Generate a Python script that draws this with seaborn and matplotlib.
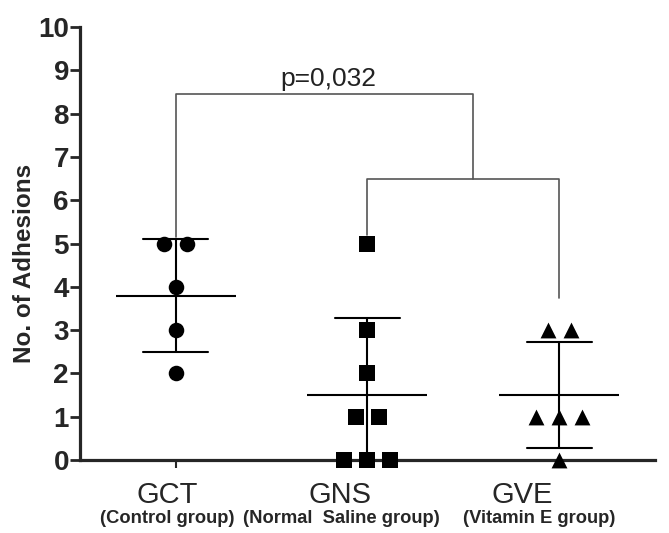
import numpy as np
import pandas as pd
import matplotlib
matplotlib.use('Agg')
import matplotlib.pyplot as plt
import seaborn as sns

# Data
groups = ['GCT', 'GNS', 'GVE']
subtitles = ['(Control group)', '(Normal  Saline group)', '(Vitamin E group)']
gct_values = [5, 5, 4, 3, 2]
gns_values = [5, 3, 2, 1, 1, 0, 0, 0]
gve_values = [3, 3, 1, 1, 1, 0]
p_label = 'p=0,032'

markers = ['o', 's', '^']

sns.set_style('ticks')
plt.rcParams['font.family'] = ['Liberation Sans', 'DejaVu Sans']

df = pd.DataFrame({
    'group': ['GCT'] * len(gct_values) + ['GNS'] * len(gns_values) + ['GVE'] * len(gve_values),
    'value': gct_values + gns_values + gve_values,
})

fig, ax = plt.subplots(figsize=(6.69, 5.33), dpi=100)
fig.subplots_adjust(left=0.1196, right=0.979, bottom=0.137, top=0.949)

# mean line + SD error bars
sns.pointplot(data=df, x='group', y='value', order=groups, errorbar='sd',
              capsize=0.34, linestyle='none', marker='_', markersize=86,
              markeredgewidth=1.5, color='black',
              err_kws={'linewidth': 1.5}, ax=ax, zorder=2)


def spread(vals, step=0.12):
    # side-by-side offsets for repeated values
    vals = np.asarray(vals)
    offs = np.zeros(len(vals))
    for v in np.unique(vals):
        idx = np.where(vals == v)[0]
        n = len(idx)
        offs[idx] = (np.arange(n) - (n - 1) / 2) * step
    return offs


for i, (g, m) in enumerate(zip(groups, markers)):
    vals = df.loc[df['group'] == g, 'value'].to_numpy()
    xs = i + spread(vals)
    size = {'o': 125, 's': 135, '^': 130}[m]
    ax.scatter(xs, vals, marker=m, s=size, color='black', zorder=4,
               clip_on=False, linewidths=0)

# significance brackets
bc = '#555555'
ax.plot([0, 0, 1.55, 1.55], [5.15, 8.45, 8.45, 6.5], color=bc, lw=1.2)
ax.plot([1, 1, 2, 2], [5.2, 6.5, 6.5, 3.75], color=bc, lw=1.2)
ax.text(0.795, 8.52, p_label, ha='center', va='bottom', fontsize=19, color='#222222')

ax.set_xlim(-0.5, 2.5)
ax.set_ylim(0, 10)
ax.set_yticks(range(0, 11))
ax.set_yticklabels([str(v) for v in range(0, 11)], fontweight='bold', fontsize=20)
ax.set_xticks(range(len(groups)))
ax.set_xticklabels([])
ax.tick_params(axis='y', length=7, width=2, pad=1)
ax.tick_params(axis='x', length=6, width=1.5, direction='out')

sns.despine(ax=ax)
for s in ['left', 'bottom']:
    ax.spines[s].set_linewidth(2.3)

ax.set_xlabel('')
ax.set_ylabel('No. of Adhesions', fontweight='bold', fontsize=17.5)
ax.yaxis.set_label_coords(-0.076, 0.455)

label_shift = [-6.5, -19.5, -26.5]
sub_shift = [-6.5, -19, -14.5]
for i, (g, sub) in enumerate(zip(groups, subtitles)):
    ax.annotate(g, xy=(i, 0), xycoords=('data', 'axes fraction'),
                xytext=(label_shift[i], -25), textcoords='offset points',
                ha='center', va='center', fontsize=21)
    ax.annotate(sub, xy=(i, 0), xycoords=('data', 'axes fraction'),
                xytext=(sub_shift[i], -42), textcoords='offset points',
                ha='center', va='center', fontsize=13.2, fontweight='bold')

fig.savefig('out.png', dpi=100)
